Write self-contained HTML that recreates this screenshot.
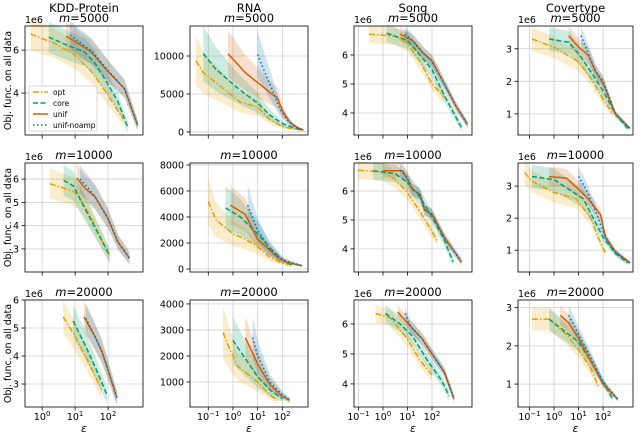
<!DOCTYPE html>
<html><head><meta charset="utf-8"><style>
html,body{margin:0;padding:0;background:#fff}
svg{display:block;font-family:"DejaVu Sans","Liberation Sans",sans-serif}
</style></head><body>
<svg id="chart" width="640" height="435" viewBox="0 0 640 435" xmlns="http://www.w3.org/2000/svg"></svg>
<script>
// ---- data: [log10(eps), objective] ----
const r1c1_opt=[[-0.35,6.75],[0.4,6.3],[1.0,5.75],[1.5,5.0],[2.0,3.9],[2.45,2.8]];
const r1c1_core=[[0.2,6.6],[0.8,6.2],[1.3,5.9],[1.6,5.4],[2.0,4.4],[2.3,3.6],[2.6,2.4]];
const r1c1_unif=[[0.73,6.65],[1.0,6.4],[1.5,5.9],[2.0,5.0],[2.5,4.2],[2.9,2.5]];
const r1c1_noamp=[[0.85,6.7],[1.1,6.4],[1.5,5.95],[2.0,5.05],[2.5,4.2],[2.9,2.5]];
const r1c2_opt=[[-1.5,9400],[-1.2,7800],[-0.5,6000],[0.3,3900],[1.0,3300],[1.5,1600],[2.0,700],[2.5,350],[2.85,250]];
const r1c2_core=[[-1.2,10300],[-0.7,8300],[0,6300],[0.5,5000],[1.0,3800],[1.5,2200],[2.0,1100],[2.5,500],[2.85,250]];
const r1c2_unif=[[-0.2,10300],[0.5,7800],[1.0,6500],[1.5,5200],[1.8,4500],[2.0,2800],[2.3,1300],[2.6,600],[2.85,250]];
const r1c2_noamp=[[1.0,10200],[1.3,7800],[1.6,5500],[1.9,3000],[2.2,1600],[2.5,700],[2.85,250]];
const r1c3_opt=[[-0.57,6.72],[0.5,6.65],[1.0,6.4],[1.5,5.8],[2.0,5.0],[2.5,4.55]];
const r1c3_core=[[0.15,6.75],[1.0,6.5],[1.5,6.0],[2.0,5.5],[2.5,4.6],[3.2,3.5]];
const r1c3_unif=[[0.7,6.72],[1.2,6.5],[1.6,6.1],[2.0,5.8],[2.5,5.0],[3.0,4.2],[3.45,3.6]];
const r1c3_noamp=[[0.9,6.72],[1.2,6.5],[1.6,6.1],[2.0,5.8],[2.5,5.0],[3.0,4.2],[3.45,3.6]];
const r1c4_opt=[[-0.9,3.3],[0,3.05],[1.0,2.6],[1.5,2.1],[2.0,1.45],[2.4,1.0]];
const r1c4_core=[[-0.2,3.3],[0.6,3.2],[1.0,2.85],[1.5,2.3],[2.0,1.7],[2.5,1.0],[3.0,0.55]];
const r1c4_unif=[[0.6,3.4],[1.0,3.05],[1.4,2.8],[1.7,2.3],[2.0,1.95],[2.5,1.0],[3.1,0.55]];
const r1c4_noamp=[[1.1,3.4],[1.4,2.85],[1.7,2.3],[2.0,2.0],[2.5,1.0],[3.1,0.55]];
const r2c1_opt=[[0.24,5.8],[0.9,5.5],[1.1,5.3],[1.5,4.3],[1.8,3.4],[2.05,2.7]];
const r2c1_core=[[0.65,5.95],[0.95,5.7],[1.2,5.0],[1.5,4.2],[1.8,3.4],[2.05,2.7]];
const r2c1_unif=[[1.05,6.05],[1.3,5.6],[1.6,5.25],[2.0,4.3],[2.3,3.3],[2.65,2.6]];
const r2c1_noamp=[[1.15,6.0],[1.4,5.6],[1.6,5.25],[2.0,4.3],[2.3,3.3],[2.65,2.6]];
const r2c2_opt=[[-1.0,5200],[-0.7,3800],[0,2700],[0.5,2300],[1.0,1700],[1.5,900],[2.0,450],[2.4,300]];
const r2c2_core=[[-0.3,4700],[0.3,4000],[1.0,2700],[1.5,1600],[2.0,700],[2.4,300]];
const r2c2_unif=[[-0.1,4900],[0.5,4200],[1.0,2300],[1.4,1600],[1.8,900],[2.2,500],[2.8,250]];
const r2c2_noamp=[[0.6,4900],[1.0,3000],[1.5,1500],[2.0,700],[2.8,250]];
const r2c3_opt=[[-1.0,6.72],[0,6.65],[0.5,6.4],[1.0,5.95],[1.5,5.3],[2.0,4.6],[2.2,4.3]];
const r2c3_core=[[-0.4,6.7],[0.5,6.6],[1.0,6.3],[1.5,5.8],[2.0,5.1],[2.5,4.3],[2.86,3.55]];
const r2c3_unif=[[0.0,6.7],[0.8,6.7],[1.0,6.4],[1.2,6.05],[1.5,5.9],[1.7,5.35],[2.0,5.2],[2.5,4.4],[3.2,3.55]];
const r2c3_noamp=[[0.7,6.72],[1.0,6.45],[1.2,6.05],[1.5,5.9],[1.7,5.35],[2.0,5.2],[2.5,4.4],[3.2,3.55]];
const r2c4_opt=[[-1.2,3.43],[-0.9,3.15],[0,2.8],[0.9,2.6],[1.5,2.0],[1.8,1.4],[2.1,0.9]];
const r2c4_core=[[-0.9,3.3],[0,3.2],[0.8,2.8],[1.2,2.6],[1.6,2.0],[2.0,1.4],[2.5,0.9],[3.0,0.6]];
const r2c4_unif=[[-0.2,3.3],[0.5,3.25],[1.0,2.9],[1.4,2.6],[1.9,2.1],[2.1,1.4],[2.5,0.95],[3.1,0.6]];
const r2c4_noamp=[[1.0,3.3],[1.3,2.9],[1.7,2.2],[2.1,1.4],[2.5,0.95],[3.1,0.6]];
const r3c1_opt=[[0.64,5.4],[1.0,4.7],[1.4,3.8],[1.8,2.8]];
const r3c1_core=[[0.94,5.25],[1.3,4.4],[1.65,3.5],[1.97,2.6]];
const r3c1_unif=[[1.27,5.4],[1.6,4.7],[1.8,4.2],[2.0,3.5],[2.27,2.5]];
const r3c1_noamp=[[1.32,5.35],[1.6,4.7],[1.8,4.2],[2.0,3.5],[2.27,2.5]];
const r3c2_opt=[[-0.4,2900],[-0.1,2200],[0.2,1600],[1.0,1000],[1.5,500],[1.8,300]];
const r3c2_core=[[0,2600],[0.5,1900],[1.0,1200],[1.5,700],[2.0,350]];
const r3c2_unif=[[0.5,2700],[1.0,1700],[1.5,900],[2.0,450],[2.3,300]];
const r3c2_noamp=[[0.8,2700],[1.0,2000],[1.5,1000],[2.0,500],[2.3,300]];
const r3c3_opt=[[-0.3,6.35],[0.3,6.2],[1.0,5.5],[1.5,4.8],[2.0,4.3]];
const r3c3_core=[[0.1,6.35],[0.7,6.0],[1.2,5.6],[1.8,4.8],[2.4,4.1],[2.7,3.6]];
const r3c3_unif=[[0.6,6.4],[1.1,5.95],[1.6,5.5],[2.0,5.0],[2.5,4.4],[2.9,3.5]];
const r3c3_noamp=[[0.9,6.35],[1.1,5.95],[1.6,5.5],[2.0,5.0],[2.5,4.4],[2.9,3.5]];
const r3c4_opt=[[-0.9,2.7],[-0.2,2.7],[0.5,2.3],[1.0,1.9],[1.5,1.4],[1.8,0.95]];
const r3c4_core=[[-0.2,2.7],[0.4,2.4],[1.0,2.1],[1.5,1.6],[2.0,1.05],[2.4,0.6]];
const r3c4_unif=[[0.25,2.8],[0.6,2.6],[1.0,2.2],[1.5,1.6],[2.0,1.0],[2.6,0.6]];
const r3c4_noamp=[[0.6,2.8],[1.0,2.3],[1.5,1.7],[2.0,1.05],[2.6,0.6]];
// relative band half-width per series [opt, core, unif, noamp]
const spreadKDD=[0.11,0.11,0.1,0.1];
const spreadRNA=[0.35,0.35,0.3,0.3];
const spreadSong=[0.045,0.045,0.035,0.035];
const spreadCov=[0.11,0.11,0.09,0.09];
const datasetNames=["KDD-Protein","RNA","Song","Covertype"];
const mValues=["5000","10000","20000"];
const seriesNames=["opt","core","unif","unif-noamp"];
const yTicks=[
 [[4,6],[0,5000,10000],[4,5,6],[1,2,3]],
 [[3,4,5,6],[0,2000,4000,6000,8000],[4,5,6],[1,2,3]],
 [[3,4,5,6],[1000,2000,3000,4000],[4,5,6],[1,2,3]]];
const xTicksCol=[[0,1,2],[-1,0,1,2],[-1,0,1,2],[-1,0,1,2]];

const D={r1c1:[r1c1_opt,r1c1_core,r1c1_unif,r1c1_noamp],r1c2:[r1c2_opt,r1c2_core,r1c2_unif,r1c2_noamp],r1c3:[r1c3_opt,r1c3_core,r1c3_unif,r1c3_noamp],r1c4:[r1c4_opt,r1c4_core,r1c4_unif,r1c4_noamp],
r2c1:[r2c1_opt,r2c1_core,r2c1_unif,r2c1_noamp],r2c2:[r2c2_opt,r2c2_core,r2c2_unif,r2c2_noamp],r2c3:[r2c3_opt,r2c3_core,r2c3_unif,r2c3_noamp],r2c4:[r2c4_opt,r2c4_core,r2c4_unif,r2c4_noamp],
r3c1:[r3c1_opt,r3c1_core,r3c1_unif,r3c1_noamp],r3c2:[r3c2_opt,r3c2_core,r3c2_unif,r3c2_noamp],r3c3:[r3c3_opt,r3c3_core,r3c3_unif,r3c3_noamp],r3c4:[r3c4_opt,r3c4_core,r3c4_unif,r3c4_noamp]};
const spreads=[spreadKDD,spreadRNA,spreadSong,spreadCov];

// ---- layout ----
const cols=[{x0:25,x1:143,l0:-0.52,l1:3.06},{x0:190,x1:308,l0:-1.74,l1:3.04},{x0:354,x1:472,l0:-1.18,l1:3.63},{x0:518,x1:633,l0:-1.47,l1:3.22}];
const rows=[{y0:26,y1:135},{y0:163,y1:272},{y0:300,y1:407}];
const yr=[[[2.05,7.12],[-400,13950],[3.24,7.0],[0.35,3.7]],[[2.01,6.69],[-230,8150],[3.2,6.97],[0.32,3.72]],[[2.18,6.0],[40,4150],[3.23,6.8],[0.4,3.2]]];
const colors=["#E69F00","#009E73","#D55E00","#0072B2"];
const dashes=["6,2,1.5,2","5,2.5","","1.5,2.5"];
const NS="http://www.w3.org/2000/svg";
const svg=document.getElementById('chart');
function el(t,a,p){const e=document.createElementNS(NS,t);for(const k in a)e.setAttribute(k,a[k]);(p||svg).appendChild(e);return e;}

for(let r=0;r<3;r++)for(let c=0;c<4;c++){
 const C=cols[c],R=rows[r],Y=yr[r][c];
 const g=el('g',{});
 
 
 const sx=l=>C.x0+(l-C.l0)/(C.l1-C.l0)*(C.x1-C.x0);
 const sy=v=>R.y1-(v-Y[0])/(Y[1]-Y[0])*(R.y1-R.y0);
 xTicksCol[c].forEach(t=>{const x=sx(t);
  const gl=el('line',{x1:x,x2:x,y1:R.y0,y2:R.y1,stroke:'#d0d0d0','stroke-width':0.8},g);
  
  el('line',{x1:x,x2:x,y1:R.y1,y2:R.y1+3.5,stroke:'#000','stroke-width':0.8},g);
  if(r===2){const tx=el('text',{x:x,y:R.y1+13,'font-size':9.5,'text-anchor':'middle'},g);
   
   tx.innerHTML='10<tspan dy="-4" font-size="7">'+(t<0?'\u2212'+(-t):t)+'</tspan>';}
 });
 yTicks[r][c].forEach(t=>{const y=sy(t);
  const gl=el('line',{x1:C.x0,x2:C.x1,y1:y,y2:y,stroke:'#d0d0d0','stroke-width':0.8},g);
  
  el('line',{x1:C.x0-3.5,x2:C.x0,y1:y,y2:y,stroke:'#000','stroke-width':0.8},g);
  const tl=el('text',{x:C.x0-6,y:y+3.5,'font-size':9.5,'text-anchor':'end'},g);
  
  tl.textContent=String(t);
 });
 const data=D['r'+(r+1)+'c'+(c+1)],sp=spreads[c];
 data.forEach((s,i)=>{
  const up=s.map(p=>sx(p[0])+','+sy(p[1]*(1+sp[i])));
  const lo=s.slice().reverse().map(p=>sx(p[0])+','+sy(p[1]*(1-sp[i])));
  const b=el('polygon',{points:up.concat(lo).join(' '),fill:colors[i],'fill-opacity':0.2,stroke:'none'},g);
  
 });
 data.forEach((s,i)=>{
  const a={points:s.map(p=>sx(p[0])+','+sy(p[1])).join(' '),fill:'none',stroke:colors[i],'stroke-width':1.5};
  if(dashes[i])a['stroke-dasharray']=dashes[i];
  const l=el('polyline',a,g);
  
 });
 const fr=el('rect',{x:C.x0,y:R.y0,width:C.x1-C.x0,height:R.y1-R.y0,fill:'none',stroke:'#000','stroke-width':0.8},g);
 
 const cx=(C.x0+C.x1)/2;
 if(r===0){const t=el('text',{x:cx,y:12,'font-size':11.5,'text-anchor':'middle'},g);
  t.textContent=datasetNames[c];}
 const mt=el('text',{x:cx,y:R.y0-4,'font-size':11.5,'text-anchor':'middle'},g);
 
 mt.innerHTML='<tspan font-style="italic">m</tspan>='+mValues[r];
 if(c!==1){const s=el('text',{x:C.x0,y:R.y0-3,'font-size':9.5},g);
  s.textContent='1e6';}
 if(r===2){const e=el('text',{x:cx,y:432,'font-size':11,'font-style':'italic','text-anchor':'middle'},g);
  e.textContent='\u03b5';}
 if(c===0){const yc=(R.y0+R.y1)/2;const t=el('text',{x:0,y:0,'font-size':9.5,'text-anchor':'middle',transform:'translate(11,'+yc+') rotate(-90)'},g);
  t.textContent='Obj. func. on all data';}
}
const lg=el('g',{});


el('rect',{x:29,y:86,width:68,height:45,rx:2,fill:'#fff','fill-opacity':0.85,stroke:'#ccc','stroke-width':0.8},lg);
seriesNames.forEach((n,i)=>{const y=92+i*11;
 const a={x1:33,x2:48,y1:y,y2:y,stroke:colors[i],'stroke-width':1.5};if(dashes[i])a['stroke-dasharray']=dashes[i];
 const ln=el('line',a,lg);
 
 const t=el('text',{x:53,y:y+2.8,'font-size':7.5},lg);
 t.textContent=n;});
</script>
</body></html>
